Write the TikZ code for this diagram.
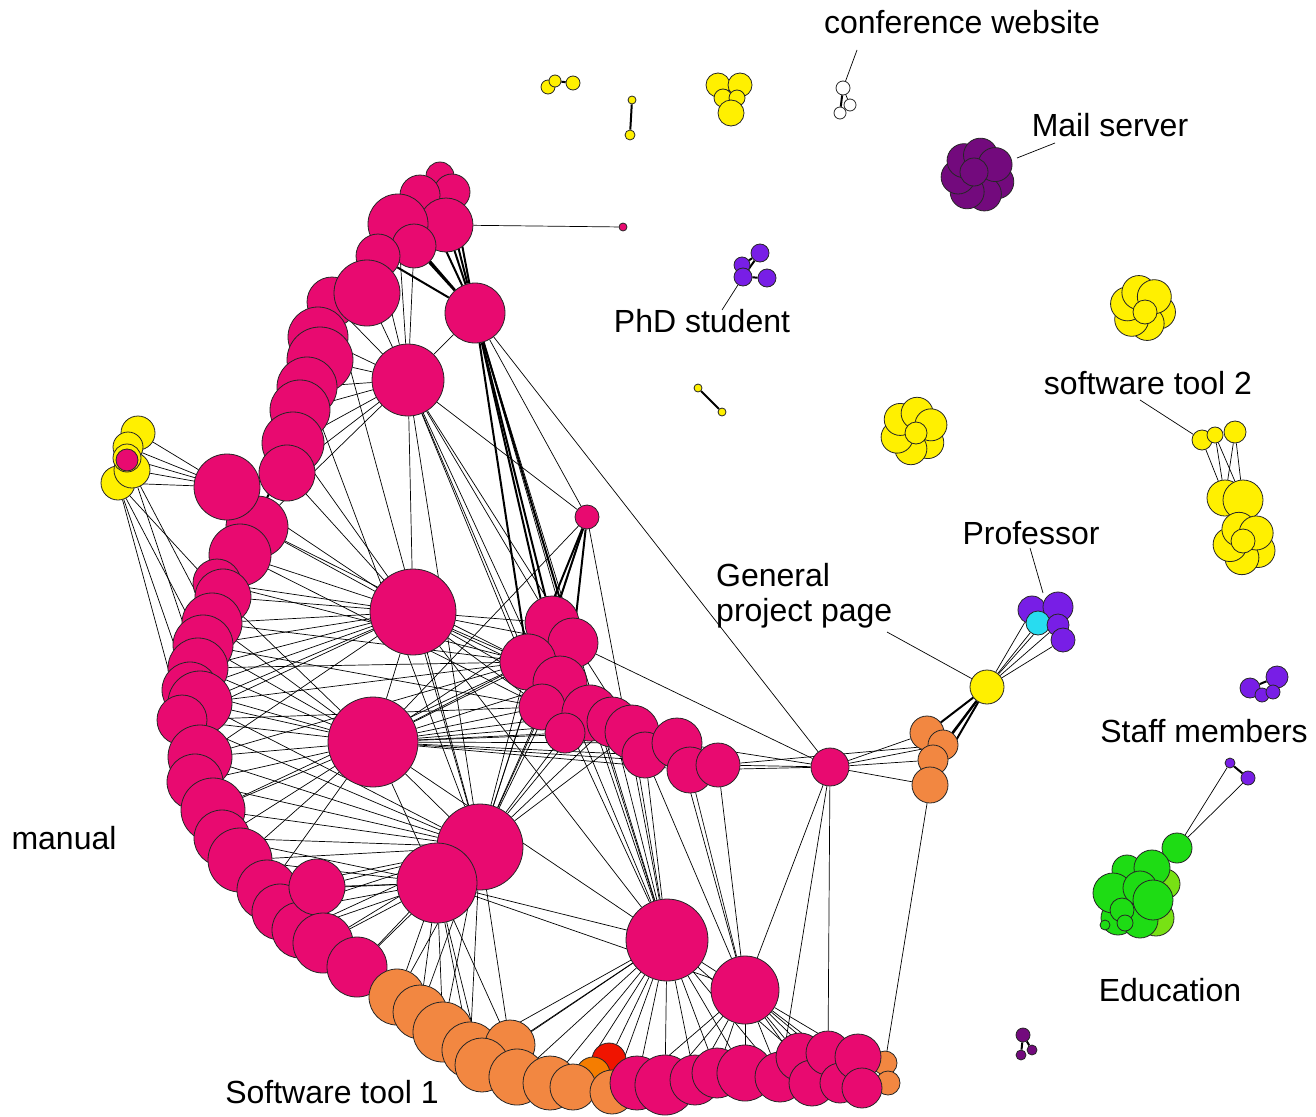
\documentclass[tikz,border=0pt]{standalone}
\usepackage{fontspec}
\setmainfont{Liberation Sans}
\usepackage{xcolor}
\definecolor{pinkc}{RGB}{232,10,112}
\definecolor{orng}{RGB}{242,135,65}
\definecolor{dorng}{RGB}{245,125,0}
\definecolor{redc}{RGB}{240,20,0}
\definecolor{yel}{RGB}{255,240,0}
\definecolor{purp}{RGB}{120,30,230}
\definecolor{mailc}{RGB}{115,10,125}
\definecolor{grn}{RGB}{30,220,20}
\definecolor{lgrn}{RGB}{120,225,20}
\definecolor{cyanc}{RGB}{40,220,240}
\usepackage{tikz}
\usetikzlibrary{backgrounds,calc}

\begin{document}
\begin{tikzpicture}[x=1pt,y=-1pt,
  ball/.style={circle,draw=black!85,line width=0.8pt,inner sep=0pt},
  link/.style={line width=0.7pt},
  bundle/.style={line width=2pt},
  lbl/.style={font=\fontsize{32}{35}\selectfont,inner sep=0pt},
  leader/.style={line width=0.7pt}]
  \useasboundingbox (0,0) rectangle (1316,1116);

  %% the manual arc
  \foreach \i/\x/\y/\r in {1/440/176/14,2/452/192/18,3/420/195/20,4/446/225/27,
    5/398/224/30,6/414/246/22,7/378/256/22,8/332/302/25,9/367/293/33,
    10/318/337/30,11/320/360/33,12/307/387/30,13/300/410/30,14/293/443/31,
    15/287/473/28,16/257/527/31,17/240/555/31,18/217/583/24,19/223/597/28,
    20/212/623/30,21/203/645/30,22/198/668/30,23/190/690/28,24/200/703/32,
    25/182/720/25,26/200/757/32,27/195/782/28,28/213/810/32,29/222/838/28,
    30/240/860/32,31/267/890/30,32/280/912/28,33/300/930/28,34/317/887/28,
    35/323/943/30,36/357/967/30}
    \node[ball,fill=pinkc,minimum size=2*\r] (m\i) at (\x,\y) {};
  \node[ball,fill=pinkc,minimum size=8] (sp) at (623,227) {};

  %% hubs
  \foreach \n/\x/\y/\r in {hA/475/313/30,hB/408/380/36,hC/413/612/43,
    hD/373/742/45,hE/480/847/43,hF/437/883/40,hG/667/940/41,hH/745/990/34,
    hI/587/517/12,hJ/830/767/19,hK/227/487/33}
    \node[ball,fill=pinkc,minimum size=2*\r] (\n) at (\x,\y) {};

  %% right part of the pink group
  \foreach \i/\x/\y/\r in {1/552/623/27,2/573/643/25,3/528/662/28,4/560/683/27,
    5/542/707/23,6/590/713/28,7/565/733/20,8/612/722/25,9/632/732/27,
    10/645/755/23,11/677/743/25,12/690/770/23,13/718/765/22}
    \node[ball,fill=pinkc,minimum size=2*\r] (r\i) at (\x,\y) {};

  %% software tool 1
  \node[ball,fill=redc,minimum size=34] (red1) at (609,1060) {};
  \node[ball,fill=dorng,minimum size=34] (dor1) at (593,1074) {};
  \foreach \i/\x/\y/\r in {1/397/997/28,2/420/1012/27,3/443/1032/30,4/470/1050/28,
    5/510/1045/25,6/482/1065/27,7/517/1077/28,8/550/1083/27,9/573/1087/23,
    10/612/1092/22}
    \node[ball,fill=orng,minimum size=2*\r] (o\i) at (\x,\y) {};
  \node[ball,fill=orng,minimum size=24] (bo1) at (885,1063) {};
  \node[ball,fill=orng,minimum size=24] (bo2) at (888,1083) {};
  \foreach \i/\x/\y/\r in {1/637/1083/27,2/665/1085/30,3/695/1080/25,4/717/1073/25,
    5/745/1073/28,6/780/1077/25,7/800/1057/24,8/812/1083/23,9/828/1053/22,
    10/840/1083/20,11/858/1057/23,12/862/1088/20}
    \node[ball,fill=pinkc,minimum size=2*\r] (b\i) at (\x,\y) {};

  %% general project page and professor
  \foreach \i/\x/\y/\r in {1/927/733/17,2/943/745/15,3/933/760/15,4/930/785/18}
    \node[ball,fill=orng,minimum size=2*\r] (q\i) at (\x,\y) {};
  \node[ball,fill=yel,minimum size=34] (gpp) at (987,687) {};
  \node[ball,fill=purp,minimum size=28] (p1) at (1032,610) {};
  \node[ball,fill=purp,minimum size=30] (p2) at (1058,607) {};
  \node[ball,fill=cyanc,minimum size=24] (pc) at (1038,623) {};
  \node[ball,fill=purp,minimum size=22] (p3) at (1058,625) {};
  \node[ball,fill=purp,minimum size=24] (p4) at (1063,640) {};

  %% yellow group left of the arc
  \foreach \i/\x/\y/\r in {1/138/433/17,2/128/447/15,3/118/483/17,4/132/470/18,
    5/127/458/14}
    \node[ball,fill=yel,minimum size=2*\r] (yl\i) at (\x,\y) {};
  \node[ball,fill=pinkc,minimum size=22] (ylp) at (127,460) {};

  %% small groups at the top
  \node[ball,fill=yel,minimum size=14] (ya1) at (548,87) {};
  \node[ball,fill=yel,minimum size=12] (ya2) at (555,81) {};
  \node[ball,fill=yel,minimum size=14] (ya3) at (573,83) {};
  \node[ball,fill=yel,minimum size=8] (yb1) at (632,100) {};
  \node[ball,fill=yel,minimum size=10] (yb2) at (630,135) {};
  \node[ball,fill=yel,minimum size=8] (yc1) at (698,388) {};
  \node[ball,fill=yel,minimum size=8] (yc2) at (722,412) {};
  \foreach \i/\x/\y/\r in {1/718/85/12,2/740/85/12,3/723/98/9,4/737/98/8,5/731/113/13}
    \node[ball,fill=yel,minimum size=2*\r] (yd\i) at (\x,\y) {};
  \node[ball,fill=white,minimum size=14] (cw1) at (843,88) {};
  \node[ball,fill=white,minimum size=12] (cw2) at (850,105) {};
  \node[ball,fill=white,minimum size=12] (cw3) at (840,113) {};
  \foreach \i/\x/\y/\r in {1/760/253/9,2/742/265/8,3/743/277/9,4/767/278/9}
    \node[ball,fill=purp,minimum size=2*\r] (phd\i) at (\x,\y) {};

  %% mail server
  \foreach \k in {0,...,6}
    \node[ball,fill=mailc,minimum size=34] (mail\k) at ($(978,175)+(\k*51.43+20:20)$) {};
  \node[ball,fill=mailc,minimum size=28] (mail) at (974,172) {};

  %% yellow clusters on the right
  \foreach \k in {0,...,5}
    \node[ball,fill=yel,minimum size=34] (sw\k) at ($(1143,308)+(\k*60+15:16)$) {};
  \node[ball,fill=yel,minimum size=24] (sw) at (1145,312) {};
  \foreach \k in {0,...,5}
    \node[ball,fill=yel,minimum size=32] (yx\k) at ($(914,431)+(\k*60+40:18)$) {};
  \node[ball,fill=yel,minimum size=22] (yx) at (916,433) {};

  %% software tool 2
  \node[ball,fill=yel,minimum size=20] (st2a) at (1202,440) {};
  \node[ball,fill=yel,minimum size=16] (st2b) at (1215,435) {};
  \node[ball,fill=yel,minimum size=22] (st2c) at (1235,432) {};
  \node[ball,fill=yel,minimum size=36] (st2d) at (1225,498) {};
  \node[ball,fill=yel,minimum size=40] (st2e) at (1243,500) {};
  \foreach \k in {0,...,4}
    \node[ball,fill=yel,minimum size=34] (st2f\k) at ($(1245,543)+(\k*72+30:15)$) {};
  \node[ball,fill=yel,minimum size=24] (st2f) at (1243,541) {};

  %% staff members and education
  \node[ball,fill=purp,minimum size=20] (s1) at (1250,688) {};
  \node[ball,fill=purp,minimum size=22] (s2) at (1277,677) {};
  \node[ball,fill=purp,minimum size=14] (s3) at (1262,695) {};
  \node[ball,fill=purp,minimum size=14] (s4) at (1273,692) {};
  \node[ball,fill=purp,minimum size=10] (ed1) at (1230,763) {};
  \node[ball,fill=purp,minimum size=14] (ed2) at (1248,778) {};
  \node[ball,fill=grn,minimum size=30] (e1) at (1177,848) {};
  \node[ball,fill=lgrn,minimum size=30] (e2) at (1165,884) {};
  \node[ball,fill=lgrn,minimum size=36] (e3) at (1156,918) {};
  \foreach \i/\x/\y/\r in {12/1118/918/17,13/1140/920/18,4/1127/870/15,5/1152/868/18,
    6/1113/893/20,7/1140/888/17,8/1153/900/20,9/1122/910/12,10/1125/923/8,
    11/1105/925/5}
    \node[ball,fill=grn,minimum size=2*\r] (e\i) at (\x,\y) {};
  \node[ball,fill=mailc,minimum size=14] (dp1) at (1023,1035) {};
  \node[ball,fill=mailc,minimum size=10] (dp2) at (1032,1050) {};
  \node[ball,fill=mailc,minimum size=10] (dp3) at (1021,1055) {};

  %% labels
  \node[lbl] (confLbl) at (962,22) {conference website};
  \node[lbl] (mailLbl) at (1110,125) {Mail server};
  \node[lbl] (phdLbl) at (702,321) {PhD student};
  \node[lbl] (st2Lbl) at (1148,383) {software tool 2};
  \node[lbl] (profLbl) at (1031,533) {Professor};
  \node[lbl,align=left,anchor=west] (gppLbl) at (716,596) {General\\project page};
  \node[lbl] (staffLbl) at (1204,731) {Staff members};
  \node[lbl] (manLbl) at (64,838) {manual};
  \node[lbl] (eduLbl) at (1170,990) {Education};
  \node[lbl] (st1Lbl) at (332,1092) {Software tool 1};

  \coordinate (confTip) at (857,50);
  \coordinate (mailTip) at (1055,143);
  \coordinate (mailEnd) at (1017,158);
  \coordinate (phdTip) at (722,310);
  \coordinate (st2Tip) at (1140,400);
  \coordinate (profTip) at (1030,548);
  \coordinate (profEnd) at (1043,593);
  \coordinate (gppTip) at (887,632);
  \draw[leader] (confTip) -- (cw1);
  \draw[leader] (mailTip) -- (mailEnd);
  \draw[leader] (phd3) -- (phdTip);
  \draw[leader] (st2Tip) -- (st2a);
  \draw[leader] (profTip) -- (profEnd);

  \begin{pgfonlayer}{background}
    \draw[leader] (gppTip) -- (gpp);
    % upper hubs
    \foreach \i in {1,...,7} \draw[bundle] (m\i) -- (hA);
    \foreach \i in {5,...,16} \draw[link] (m\i) -- (hB);
    \foreach \i in {1,...,4} \draw[bundle] (hA) -- (r\i);
    \foreach \a in {hB,hI,hG,hJ,r6} \draw[link] (hA) -- (\a);
    \foreach \a in {hC,hE,hG,hI,r1,r3,r5,r9} \draw[link] (hB) -- (\a);
    % middle hubs
    \foreach \i in {14,...,26} \draw[link] (m\i) -- (hC);
    \foreach \i in {19,...,31} \draw[link] (m\i) -- (hD);
    \foreach \i in {24,...,36} \draw[link] (m\i) -- (hE);
    \foreach \i in {29,...,36} \draw[link] (m\i) -- (hF);
    \foreach \a in {hD,hE,hG,hK} \draw[link] (hC) -- (\a);
    \foreach \i in {1,...,6} \draw[link] (hC) -- (r\i);
    \foreach \i in {1,...,13} \draw[link] (hD) -- (r\i);
    \foreach \a in {hE,hF,hG} \draw[link] (hD) -- (\a);
    \foreach \i in {1,...,9} \draw[link] (hE) -- (r\i);
    \foreach \i in {1,...,6} \draw[link] (hF) -- (o\i);
    \foreach \i in {1,...,5} \draw[link] (hE) -- (o\i);
    \foreach \a in {hG,hH} \draw[link] (hF) -- (\a);
    \foreach \i in {16,18,20,22,24,26,28} \draw[link] (m\i) -- (r3);
    \foreach \i in {17,21,25} \draw[link] (m\i) -- (r5);
    \foreach \i in {8,12} \draw[link] (m\i) -- (hE);
    \draw[bundle] (m14) -- (m17);
    \draw[bundle] (m26) -- (m33);
    % small hub
    \foreach \i in {1,2,3} \draw[bundle] (hI) -- (r\i);
    \foreach \a in {hE,hG,hD} \draw[link] (hI) -- (\a);
    % lower hubs
    \foreach \i in {4,...,10} \draw[link] (hG) -- (o\i);
    \foreach \i in {1,...,7} \draw[link] (hG) -- (b\i);
    \foreach \a in {red1,r2,r4,r6,r8,r9,r10,hH} \draw[link] (hG) -- (\a);
    \foreach \i in {1,...,12} \draw[link] (hH) -- (b\i);
    \foreach \a in {r10,r11,r12,r13,hJ} \draw[link] (hH) -- (\a);
    \foreach \a in {r2,r11,r12,r13,q1,q2,q3,q4,b6,b9} \draw[link] (hJ) -- (\a);
    \foreach \i in {1,...,4} \draw[bundle] (q\i) -- (gpp);
    \draw[link] (r13) -- (q2);
    \foreach \a in {p1,p2,pc,p3,p4} \draw[link] (gpp) -- (\a);
    \draw[link] (bo1) -- (q4);
    % yellow group and the arc
    \foreach \i in {1,...,5} \draw[link] (yl\i) -- (hK);
    \foreach \i in {19,21,23,25} \draw[link] (yl3) -- (m\i);
    \foreach \i in {20,22} \draw[link] (yl4) -- (m\i);
    \draw[link] (m4) -- (sp);
    % the small groups
    \draw[bundle] (ya2) -- (ya3);
    \draw[bundle] (yb1) -- (yb2);
    \draw[bundle] (yc1) -- (yc2);
    \draw[bundle] (cw1) -- (cw3);
    \draw[link] (cw1) -- (cw2);
    \foreach \a in {phd2,phd3} \draw[bundle] (phd1) -- (\a);
    \draw[bundle] (phd3) -- (phd4);
    \foreach \a in {st2a,st2b,st2c} \draw[link] (\a) -- (st2d);
    \foreach \a in {st2b,st2c} \draw[link] (\a) -- (st2e);
    \draw[bundle] (st2e) -- (st2f);
    \draw[bundle] (s1) -- (s2);
    \draw[bundle] (ed1) -- (ed2);
    \foreach \a in {ed1,ed2} \draw[link] (\a) -- (e1);
    \draw[bundle] (e1) -- (e5);
    \draw[bundle] (dp1) -- (dp2);
    \draw[bundle] (dp1) -- (dp3);
  \end{pgfonlayer}
\end{tikzpicture}
\end{document}
